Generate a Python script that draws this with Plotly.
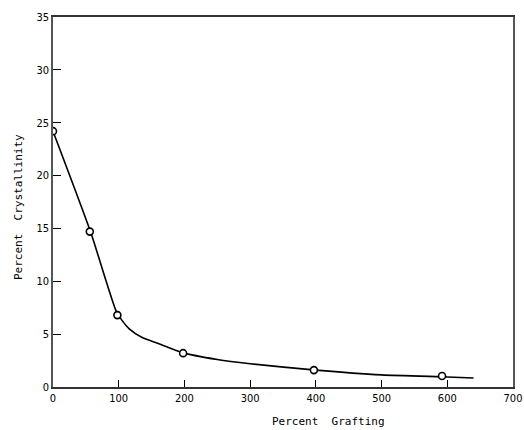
import plotly.graph_objects as go

# measured points
grafting = [0, 56, 98, 198, 397, 592]
crystallinity = [24.2, 14.7, 6.8, 3.2, 1.6, 1.04]

# drawn smooth curve
curve_x = [0, 57, 96, 105, 116, 135, 161, 197, 250, 300, 400, 500, 600, 640]
curve_y = [24.2, 14.7, 7.2, 6.3, 5.5, 4.7, 4.1, 3.25, 2.6, 2.2, 1.6, 1.15, 0.95, 0.85]

x_ticks = [0, 100, 200, 300, 400, 500, 600, 700]
y_ticks = [0, 5, 10, 15, 20, 25, 30, 35]

L, R, T, B = 53, 11, 17, 43

fig = go.Figure()
fig.add_trace(go.Scatter(x=curve_x, y=curve_y, mode="lines",
                         line=dict(color="black", width=1.6, shape="spline", smoothing=0.6),
                         showlegend=False, hoverinfo="skip"))
fig.add_trace(go.Scatter(x=grafting, y=crystallinity, mode="markers",
                         marker=dict(symbol="circle", size=7, color="white",
                                     line=dict(color="black", width=1.6)),
                         showlegend=False))

fig.update_layout(
    width=524, height=430,
    margin=dict(l=L, r=R, t=T, b=B, autoexpand=False),
    paper_bgcolor="white", plot_bgcolor="white",
    font=dict(family="DejaVu Sans Condensed, DejaVu Sans", size=11, color="black"),
    xaxis=dict(range=[0, 700], tickvals=x_ticks, ticks="inside", ticklen=7,
               tickcolor="black", tickwidth=1, showline=True, linecolor="#333",
               linewidth=1.5, mirror=True, showgrid=False, zeroline=False,
               tickfont=dict(size=11), ticklabeloverflow="allow", automargin=False),
    yaxis=dict(range=[0, 35], tickvals=y_ticks, ticks="inside", ticklen=8,
               tickcolor="black", tickwidth=1, showline=True, linecolor="#555",
               linewidth=1.5, mirror=True, showgrid=False, zeroline=False,
               tickfont=dict(size=11), ticklabeloverflow="allow", automargin=False),
)
w_plot = 524 - L - R
h_plot = 430 - T - B
fig.add_annotation(text="Percent  Grafting", xref="paper", yref="paper",
                   x=(328 - L) / w_plot, y=-(421 - (430 - B)) / h_plot,
                   xanchor="center", yanchor="middle",
                   showarrow=False, font=dict(family="DejaVu Sans Mono", size=11))
fig.add_annotation(text="Percent  Crystallinity", xref="paper", yref="paper",
                   x=-(L - 18) / w_plot, y=((430 - B) - 207) / h_plot, textangle=-90,
                   xanchor="center", yanchor="middle",
                   showarrow=False, font=dict(family="DejaVu Sans Mono", size=11))

fig.write_html("out.html")
